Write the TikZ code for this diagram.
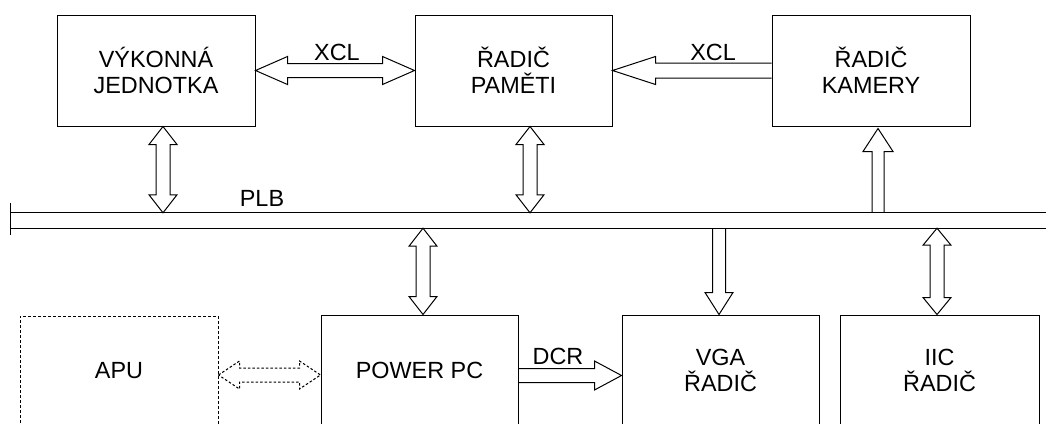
\documentclass[tikz,border=0pt]{standalone}
\usepackage{fontspec}
\setmainfont{Liberation Sans}
\usetikzlibrary{calc}
\tikzset{
  txt/.style={font=\fontsize{23.4}{26}\selectfont},
  box/.style={draw, line width=1pt, inner sep=0pt, align=center, txt},
  dotbox/.style={box, dash pattern=on 3pt off 2pt},
  lbl/.style={inner sep=0pt, txt},
  barrow/.style={draw, line width=1pt, line join=miter},
  dotarrow/.style={barrow, dash pattern=on 2.5pt off 2pt},
  busline/.style={draw, line width=1pt},
}
% vertical double arrow: #1 top tip, #2 bottom tip, #3 head length
\newcommand\vdbl[3]{\draw[barrow] let \p1=(#1),\p2=(#2) in
  (\x1,\y1) -- (\x1+14pt,\y1-#3pt) -- (\x1+7pt,\y1-#3pt) -- (\x1+7pt,\y2+#3pt) --
  (\x1+14pt,\y2+#3pt) -- (\x1,\y2) -- (\x1-14pt,\y2+#3pt) -- (\x1-7pt,\y2+#3pt) --
  (\x1-7pt,\y1-#3pt) -- (\x1-14pt,\y1-#3pt) -- cycle;}
% horizontal double arrow: #1 left tip, #2 right tip, #3 head length, #4 style
\newcommand\hdbl[4]{\draw[#4] let \p1=(#1),\p2=(#2) in
  (\x1,\y1) -- (\x1+#3pt,\y1+14pt) -- (\x1+#3pt,\y1+7pt) -- (\x2-#3pt,\y1+7pt) --
  (\x2-#3pt,\y1+14pt) -- (\x2,\y1) -- (\x2-#3pt,\y1-14pt) -- (\x2-#3pt,\y1-7pt) --
  (\x1+#3pt,\y1-7pt) -- (\x1+#3pt,\y1-14pt) -- cycle;}
% down arrow: #1 tail (top), #2 tip (bottom), #3 head length
\newcommand\downarr[3]{\draw[barrow] let \p1=(#1),\p2=(#2) in
  (\x1-6.5pt,\y1) -- (\x1-6.5pt,\y2+#3pt) -- (\x1-14pt,\y2+#3pt) -- (\x1,\y2) --
  (\x1+14pt,\y2+#3pt) -- (\x1+6.5pt,\y2+#3pt) -- (\x1+6.5pt,\y1);}
% up arrow: #1 tail (bottom), #2 tip (top), #3 head length
\newcommand\uparr[3]{\draw[barrow] let \p1=(#1),\p2=(#2) in
  (\x1-6pt,\y1) -- (\x1-6pt,\y2-#3pt) -- (\x1-15pt,\y2-#3pt) -- (\x1,\y2) --
  (\x1+15pt,\y2-#3pt) -- (\x1+6pt,\y2-#3pt) -- (\x1+6pt,\y1);}
% right arrow: #1 tail (left), #2 tip (right), #3 head length
\newcommand\rightarr[3]{\draw[barrow] let \p1=(#1),\p2=(#2) in
  (\x1,\y2+7pt) -- (\x2-#3pt,\y2+7pt) -- (\x2-#3pt,\y2+14.5pt) -- (\x2,\y2) --
  (\x2-#3pt,\y2-14.5pt) -- (\x2-#3pt,\y2-7pt) -- (\x1,\y2-7pt);}
% left arrow: #1 tail (right), #2 tip (left), #3 head length
\newcommand\leftarr[3]{\draw[barrow] let \p1=(#1),\p2=(#2) in
  (\x1,\y2+7.5pt) -- (\x2+#3pt,\y2+7.5pt) -- (\x2+#3pt,\y2+14pt) -- (\x2,\y2) --
  (\x2+#3pt,\y2-14pt) -- (\x2+#3pt,\y2-7.5pt) -- (\x1,\y2-7.5pt);}
\begin{document}
\begin{tikzpicture}[x=1pt,y=-1pt]
\useasboundingbox (0,0) rectangle (1046,423);
\clip (0,0) rectangle (1046,423);
\fill[white] (0,0) rectangle (1046,423);

% top boxes
\node[box, minimum width=198pt, minimum height=111pt] (vj) at (156,70.5) {VÝKONNÁ\\JEDNOTKA};
\node[box, minimum width=197pt, minimum height=111pt] (rp) at (513.5,70.5) {ŘADIČ\\PAMĚTI};
\node[box, minimum width=198pt, minimum height=111pt] (rk) at (871,70.5) {ŘADIČ\\KAMERY};

% bus
\node[inner sep=0pt, minimum width=1049pt, minimum height=15pt] (bus) at (535.5,220.5) {};
\draw[busline] (bus.north west) -- (bus.north east);
\draw[busline] (bus.south west) -- (bus.south east);
\draw[busline] ($(bus.north west)+(0,-10)$) -- ($(bus.south west)+(0,7)$);
\node[lbl] (plb) at (262,198) {PLB};

% bottom boxes
\node[dotbox, minimum width=198pt, minimum height=110pt] (apu) at (119,371) {APU};
\node[box, minimum width=197pt, minimum height=111pt] (ppc) at (419.5,370.5) {POWER PC};
\node[box, minimum width=197pt, minimum height=111pt] (vga) at (720.5,370.5) {VGA\\ŘADIČ};
\node[box, minimum width=199pt, minimum height=111pt] (iic) at (939.5,370.5) {IIC\\ŘADIČ};

% labels
\node[lbl] (xcl1) at (337,52) {XCL};
\node[lbl] (xcl2) at (713,52) {XCL};
\node[lbl] (dcr) at (558,356) {DCR};

% anchor coordinates for arrows
\coordinate (a1) at ($(vj.south)+(7,0)$);
\coordinate (a2) at ($(rp.south)+(16.5,0)$);
\coordinate (a3) at ($(rk.south)+(7,2)$);
\coordinate (a4) at ($(ppc.north)+(3.5,0)$);
\coordinate (a5) at ($(vga.north)+(-1.5,0)$);
\coordinate (a6) at ($(iic.north)+(-2.5,0)$);
\coordinate (d1) at ($(vga.west)+(0,5)$);
\coordinate (d2) at ($(ppc.west)+(0,4.5)$);

% arrows
\hdbl{vj.east}{rp.west}{32}{barrow}
\leftarr{rk.west}{rp.east}{43}
\vdbl{a1}{a1 |- bus.north}{18}
\vdbl{a2}{a2 |- bus.north}{18}
\uparr{a3 |- bus.north}{a3}{23}
\vdbl{a4 |- bus.south}{a4}{18}
\downarr{a5 |- bus.south}{a5}{22}
\vdbl{a6 |- bus.south}{a6}{17}
\rightarr{d1 -| ppc.east}{d1}{27}
\hdbl{d2 -| apu.east}{d2}{21}{dotarrow}
\end{tikzpicture}
\end{document}
